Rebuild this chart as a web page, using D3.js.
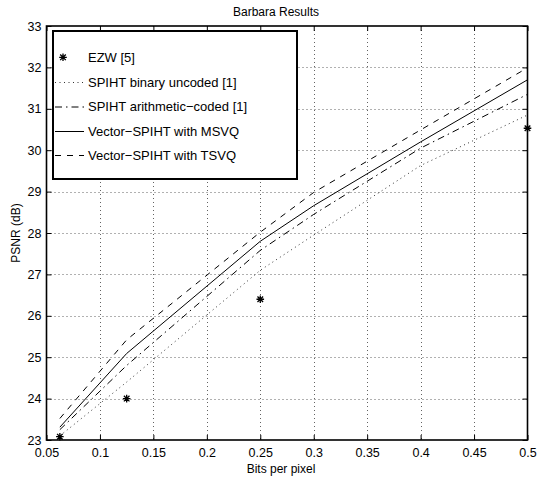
<!DOCTYPE html>
<html><head><meta charset="utf-8">
<script src="https://cdn.jsdelivr.net/npm/d3@7/dist/d3.min.js"></script>
<style>
body{margin:0;background:#fff}
svg{display:block;background:#fff}
text{font-family:"Liberation Sans",Arial,Helvetica,sans-serif;fill:#000}
</style>
</head><body><svg id="c" width="544" height="478"></svg>
<script>
// ---- data ----
const bpp = [0.0625, 0.125, 0.25, 0.3, 0.4, 0.5];
const ezwBpp = [0.0625, 0.125, 0.25, 0.5];
const ezw = [23.08, 24.0, 26.4, 30.53];
const spihtBinary = [23.1, 24.4, 27.1, 27.95, 29.63, 30.85];
const spihtArith = [23.25, 24.8, 27.58, 28.45, 30.05, 31.35];
const msvq = [23.31, 25.09, 27.8, 28.66, 30.2, 31.7];
const tsvq = [23.52, 25.42, 28.02, 28.98, 30.49, 31.99];
const xTicks = [0.05, 0.1, 0.15, 0.2, 0.25, 0.3, 0.35, 0.4, 0.45, 0.5];
const xTickLabels = ["0.05","0.1","0.15","0.2","0.25","0.3","0.35","0.4","0.45","0.5"];
const yTicks = [23, 24, 25, 26, 27, 28, 29, 30, 31, 32, 33];
const yTickLabels = ["23","24","25","26","27","28","29","30","31","32","33"];
const legendLabels = ["EZW [5]", "SPIHT binary uncoded [1]", "SPIHT arithmetic\u2212coded [1]",
  "Vector\u2212SPIHT with MSVQ", "Vector\u2212SPIHT with TSVQ"];
const titleText = "Barbara Results";
const xLabel = "Bits per pixel";
const yLabel = "PSNR (dB)";

// ---- layout ----
const L = 46.5, R = 527.5, T = 26, B = 440;
const svg = d3.select("#c");
const x = d3.scaleLinear().domain([0.05, 0.5]).range([L, R]);
const y = d3.scaleLinear().domain([23, 33]).range([B, T]);

// grid
const grid = svg.append("g").attr("stroke", "#222").attr("stroke-width", 1)
  .attr("stroke-dasharray", "1,3").attr("opacity", 0.7);
grid.selectAll("line.v").data(xTicks.slice(1, -1)).enter().append("line")
  .attr("x1", d => Math.round(x(d)) + 0.5).attr("x2", d => Math.round(x(d)) + 0.5)
  .attr("y1", T).attr("y2", B);
grid.selectAll("line.h").data(yTicks.slice(1, -1)).enter().append("line")
  .attr("y1", d => Math.round(y(d)) + 0.5).attr("y2", d => Math.round(y(d)) + 0.5)
  .attr("x1", L).attr("x2", R);

// axes
function styleAxis(g) {
  g.select(".domain").remove();
  g.selectAll(".tick line").attr("stroke", "#000").attr("stroke-width", 1);
  g.selectAll(".tick text").attr("font-size", "12.5px").attr("font-family", '"Liberation Sans",Arial,sans-serif').attr("fill", "#000");
}
svg.append("g").attr("transform", `translate(0,${B})`)
  .call(d3.axisBottom(x).tickValues(xTicks).tickFormat((d, i) => xTickLabels[i]).tickSize(-5).tickPadding(8.5))
  .call(styleAxis);
svg.append("g").attr("transform", `translate(${L},0)`)
  .call(d3.axisLeft(y).tickValues(yTicks).tickFormat((d, i) => yTickLabels[i]).tickSize(-5).tickPadding(5))
  .call(styleAxis);
svg.append("g").attr("transform", `translate(0,${T})`)
  .call(d3.axisTop(x).tickValues(xTicks).tickFormat("").tickSize(-5)).call(styleAxis);
svg.append("g").attr("transform", `translate(${R},0)`)
  .call(d3.axisRight(y).tickValues(yTicks).tickFormat("").tickSize(-5)).call(styleAxis);

// frame
svg.append("rect").attr("x", L).attr("y", T).attr("width", R - L).attr("height", B - T)
  .attr("fill", "none").attr("stroke", "#000").attr("stroke-width", 1.6);

// series
const line = d3.line().x(d => x(d[0])).y(d => y(d[1]));
const series = [
  { vals: spihtBinary, dash: "1,3.5", color: "#333", w: 1 },
  { vals: spihtArith, dash: "7,4,1.5,4", color: "#000", w: 1 },
  { vals: msvq, dash: null, color: "#000", w: 1 },
  { vals: tsvq, dash: "6,6", color: "#000", w: 1 }
];
series.forEach(s => {
  svg.append("path").datum(bpp.map((b, i) => [b, s.vals[i]]))
    .attr("d", line).attr("fill", "none").attr("stroke", s.color)
    .attr("stroke-width", s.w).attr("stroke-dasharray", s.dash);
});

function star(g, cx, cy) {
  const a = 3.8, b = 2.8;
  g.append("path").attr("d",
    `M${cx - a},${cy}H${cx + a}M${cx},${cy - a}V${cy + a}M${cx - b},${cy - b}L${cx + b},${cy + b}M${cx - b},${cy + b}L${cx + b},${cy - b}`)
    .attr("stroke", "#000").attr("stroke-width", 1.3).attr("fill", "none");
}
const mk = svg.append("g");
ezwBpp.forEach((b, i) => star(mk, x(b), y(ezw[i])));

// legend
const lg = svg.append("g");
lg.append("rect").attr("x", 53).attr("y", 31).attr("width", 244).attr("height", 148)
  .attr("fill", "#fff").attr("stroke", "#000").attr("stroke-width", 2);
const ly = [57.3, 82, 106.5, 131, 155];
legendLabels.forEach((t, i) => {
  lg.append("text").attr("x", 88).attr("y", ly[i]).attr("dy", "0.36em")
    .attr("font-size", "13px").text(t);
  if (i === 0) {
    star(lg, 63, ly[i]);
  } else {
    const s = series[i - 1];
    lg.append("line").attr("x1", 55).attr("x2", 84).attr("y1", ly[i] + 0.5).attr("y2", ly[i] + 0.5)
      .attr("stroke", s.color).attr("stroke-width", s.w).attr("stroke-dasharray", s.dash);
  }
});

// titles
svg.append("text").attr("x", 276).attr("y", 12).attr("dy", "0.36em").attr("text-anchor", "middle")
  .attr("font-size", "12px").text(titleText);
svg.append("text").attr("x", 281).attr("y", 469).attr("dy", "0.36em").attr("text-anchor", "middle")
  .attr("font-size", "12px").text(xLabel);
svg.append("text").attr("transform", `translate(16,233) rotate(-90)`).attr("dy", "0.36em")
  .attr("text-anchor", "middle").attr("font-size", "12px").text(yLabel);
</script></body></html>
